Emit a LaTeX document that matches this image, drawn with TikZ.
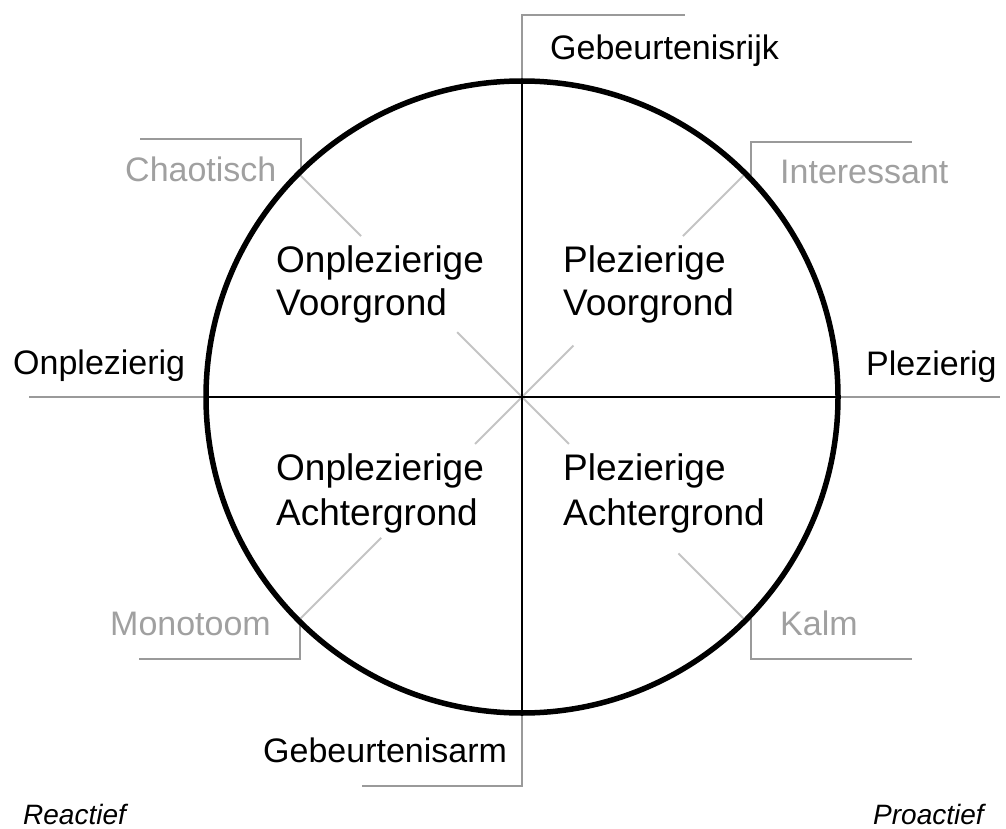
\documentclass[tikz,border=0pt]{standalone}
\usepackage{fontspec}
\setmainfont{Liberation Sans}
\usetikzlibrary{calc}
\definecolor{brk}{HTML}{9A9A9A}
\definecolor{diag}{HTML}{C4C4C4}
\definecolor{gtxt}{HTML}{A0A0A0}
\begin{document}
\begin{tikzpicture}[x=1pt,y=-1pt,
  lbl/.style={inner sep=0pt,anchor=base west,font=\fontsize{34}{40}\selectfont},
  glbl/.style={lbl,text=gtxt},
  qlbl/.style={inner sep=0pt,anchor=base west,font=\fontsize{37}{43}\selectfont},
  ilbl/.style={inner sep=0pt,anchor=base west,font=\fontsize{28}{32}\selectfont\itshape},
  axis/.style={black,line width=2pt},
  bracket/.style={brk,line width=2pt},
  diagline/.style={diag,line width=2pt},
  ring/.style={black,line width=5.5pt}]
\useasboundingbox (0,0) rectangle (1006,829);
% key points
\coordinate (c) at (522,397);
\coordinate (ct) at (522,81);
\coordinate (cb) at (522,713);
\coordinate (cl) at (206,397);
\coordinate (cr) at (838,397);
\coordinate (ul) at (298.5,173.5);
\coordinate (ur) at (745.5,173.5);
\coordinate (ll) at (298.5,620.5);
\coordinate (lr) at (745.5,620.5);
% diagonals (light grey, interrupted by labels)
\draw[diagline] (c) -- ($(c)!0.29!(ul)$);
\draw[diagline] ($(c)!0.72!(ul)$) -- (ul);
\draw[diagline] (c) -- ($(c)!0.23!(ur)$);
\draw[diagline] ($(c)!0.72!(ur)$) -- (ur);
\draw[diagline] (c) -- ($(c)!0.21!(ll)$);
\draw[diagline] ($(c)!0.63!(ll)$) -- (ll);
\draw[diagline] (c) -- ($(c)!0.21!(lr)$);
\draw[diagline] ($(c)!0.70!(lr)$) -- (lr);
% axes
\draw[axis] (ct) -- (cb);
\draw[axis] (cl) -- (cr);
% outer grey brackets
\coordinate (tEnd) at (685,15);
\coordinate (bEnd) at (362,786);
\draw[bracket] (ct) -- (522,15) -- (tEnd);
\draw[bracket] (cb) -- (522,786) -- (bEnd);
\coordinate (lEnd) at (29,397);
\coordinate (rEnd) at (1000,397);
\draw[bracket] (cl) -- (lEnd);
\draw[bracket] (cr) -- (rEnd);
\coordinate (ulb) at (301,171);
\coordinate (urb) at (751,179);
\coordinate (llb) at (300,623);
\coordinate (lrb) at (751,615);
\draw[bracket] (ulb) -- (301,139) -- (140,139);
\draw[bracket] (urb) -- (751,142) -- (912,142);
\draw[bracket] (llb) -- (300,659) -- (139,659);
\draw[bracket] (lrb) -- (751,659) -- (912,659);
% circle
\draw[ring] (c) circle[radius=316];
% labels
\node[lbl] (gr) at (550,60) {Gebeurtenisrijk};
\node[lbl] (ga) at (263,762) {Gebeurtenisarm};
\node[lbl] (on) at (13,374) {Onplezierig};
\node[lbl] (pl) at (866,375) {Plezierig};
\node[glbl] (ch) at (125,182) {Chaotisch};
\node[glbl] (in) at (780,184) {Interessant};
\node[glbl] (mo) at (110,635) {Monotoom};
\node[glbl] (ka) at (780,635) {Kalm};
\node[qlbl] (ulA) at (276,272) {Onplezierige};
\node[qlbl] (ulB) at (276,315) {Voorgrond};
\node[qlbl] (urA) at (563,272) {Plezierige};
\node[qlbl] (urB) at (563,315) {Voorgrond};
\node[qlbl] (llA) at (276,480) {Onplezierige};
\node[qlbl] (llB) at (276,525) {Achtergrond};
\node[qlbl] (lrA) at (563,480) {Plezierige};
\node[qlbl] (lrB) at (563,525) {Achtergrond};
\node[ilbl] (re) at (23,824) {Reactief};
\node[ilbl] (pr) at (873,824) {Proactief};
\end{tikzpicture}
\end{document}
